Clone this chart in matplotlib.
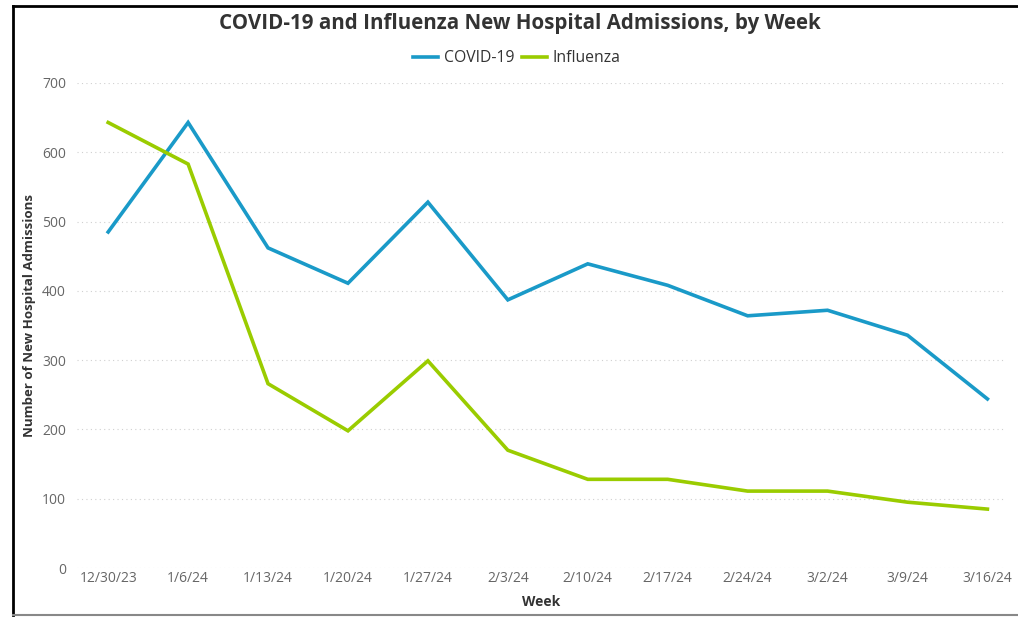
import matplotlib.pyplot as plt
from matplotlib.lines import Line2D

# Datos
semanas = ["12/30/23", "1/6/24", "1/13/24", "1/20/24", "1/27/24", "2/3/24",
           "2/10/24", "2/17/24", "2/24/24", "3/2/24", "3/9/24", "3/16/24"]
covid = [485, 643, 462, 411, 528, 387, 439, 408, 364, 372, 336, 244]
influenza = [643, 583, 266, 198, 299, 170, 128, 128, 111, 111, 95, 85]
yticks = [0, 100, 200, 300, 400, 500, 600, 700]

plt.rcParams["font.family"] = ["Open Sans", "DejaVu Sans"]

fig = plt.figure(figsize=(10.18, 6.17), dpi=100)
ax = fig.add_axes([77 / 1018, 1 - 568 / 617, (1005 - 77) / 1018, (568 - 83) / 617])

x = list(range(len(semanas)))
ax.plot(x, covid, color="#1a9ac8", linewidth=2.6, label="COVID-19",
        solid_joinstyle="miter")
ax.plot(x, influenza, color="#9acc00", linewidth=2.6, label="Influenza",
        solid_joinstyle="miter")

ax.set_ylim(0, 700)
ax.set_xlim(-0.39, 11.22)
ax.set_yticks(yticks)
ax.set_xticks(x)
ax.set_xticklabels(semanas)
ax.tick_params(length=0, labelsize=10, labelcolor="#666666", pad=8)
ax.tick_params(axis="x", pad=2)
ax.grid(axis="y", color="#d0d0d0", linestyle=(0, (1, 3)), linewidth=0.8)
for s in ax.spines.values():
    s.set_visible(False)

ax.set_ylabel("Number of New Hospital Admissions", fontsize=9.5, fontweight="bold",
              color="#333333", va="center")
ax.yaxis.set_label_coords(-0.051, 0.52)
ax.set_xlabel("Week", fontsize=10, fontweight="bold", color="#333333", labelpad=7)

fig.text(520 / 1018, 1 - 23 / 617, "COVID-19 and Influenza New Hospital Admissions, by Week",
         ha="center", va="center", fontsize=14.8, fontweight="bold", color="#333333")
fig.legend(loc="center", bbox_to_anchor=(517 / 1018, 1 - 58 / 617), ncol=2, frameon=False,
           fontsize=11.3, handlelength=1.6, handletextpad=0.35, columnspacing=0.5,
           labelcolor="#333333")

# Marco de la captura
fig.add_artist(Line2D([13 / 1018, 1], [1 - 6 / 617, 1 - 6 / 617], color="black", linewidth=2))
fig.add_artist(Line2D([13 / 1018, 13 / 1018], [1 - 6 / 617, 1 - 615 / 617], color="black", linewidth=2))
fig.add_artist(Line2D([13 / 1018, 1], [1 - 615 / 617, 1 - 615 / 617], color="#888888", linewidth=1.5))

fig.savefig("out.png", dpi=100)
